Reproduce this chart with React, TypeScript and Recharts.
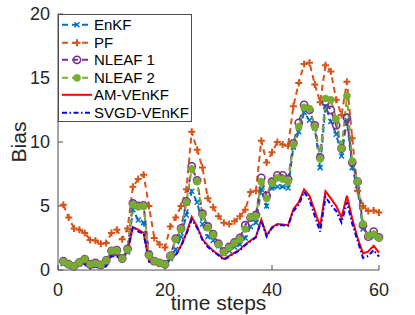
import React from "react";
import { LineChart, Line, XAxis, YAxis, Legend } from "recharts";

// time steps and estimated bias per filter
const STEPS = [
  1, 2, 3, 4, 5, 6, 7, 8, 9, 10, 11, 12, 13, 14, 15, 16, 17, 18, 19, 20,
  21, 22, 23, 24, 25, 26, 27, 28, 29, 30, 31, 32, 33, 34, 35, 36, 37, 38, 39, 40,
  41, 42, 43, 44, 45, 46, 47, 48, 49, 50, 51, 52, 53, 54, 55, 56, 57, 58, 59, 60,
];

const ENKF = [
  0.5, 0.35, 0.2, 0.5, 0.7, 0.35, 0.4, 0.3, 0.6, 1.3, 1.3, 0.8, 1.4, 4.7, 3.9, 3.7, 1.3, 0.6, 0.5, 0.35,
  0.9, 1.6, 2.6, 4.3, 6.15, 5.3, 3.6, 2.6, 2.3, 1.9, 1.3, 1.5, 1.8, 2.0, 2.5, 3.4, 3.7, 6.3, 5.0, 6.4,
  6.5, 6.5, 6.4, 9.6, 10.8, 12.3, 11.7, 11.1, 8.0, 12.8, 11.6, 10.6, 8.9, 11.7, 8.0, 6.3, 3.2, 2.7, 2.6, 2.5,
];

const PF = [
  5.1, 4.1, 3.25, 3.15, 2.9, 2.35, 2.3, 2.05, 2.1, 2.9, 3.15, 2.4, 3.25, 6.5, 7.1, 7.45, 5.0, 2.5, 2.0, 1.75,
  3.4, 4.1, 5.0, 6.3, 10.8, 9.4, 8.0, 5.6, 4.9, 4.2, 3.7, 3.6, 3.8, 4.2, 4.7, 6.1, 6.2, 10.1, 8.4, 9.2,
  10.0, 9.8, 9.7, 12.8, 14.6, 16.1, 16.2, 14.5, 13.1, 16.0, 15.5, 13.3, 12.1, 14.7, 10.3, 6.2, 5.0, 4.6, 4.65, 4.5,
];

const NLEAF1 = [
  0.7, 0.45, 0.3, 0.6, 0.85, 0.45, 0.55, 0.4, 0.75, 1.5, 1.55, 0.9, 1.65, 5.2, 5.0, 5.05, 1.2, 0.7, 0.55, 0.45,
  1.1, 2.45, 3.25, 5.35, 8.1, 7.0, 4.4, 3.4, 2.8, 2.05, 1.45, 1.8, 2.15, 2.5, 3.5, 4.1, 4.3, 7.2, 5.8, 6.9,
  7.4, 7.4, 7.1, 9.9, 11.5, 12.9, 12.5, 11.3, 8.8, 13.1, 12.5, 11.3, 9.5, 11.9, 8.4, 6.9, 3.5, 2.6, 3.0, 2.55,
];

const NLEAF2 = [
  0.65, 0.45, 0.3, 0.6, 0.85, 0.45, 0.5, 0.4, 0.75, 1.5, 1.5, 0.9, 1.6, 5.1, 4.95, 5.0, 1.15, 0.7, 0.55, 0.45,
  1.1, 2.4, 3.2, 5.3, 7.9, 6.9, 4.3, 3.3, 2.75, 2.0, 1.4, 1.75, 2.1, 2.4, 3.2, 4.15, 4.2, 6.9, 5.6, 6.8,
  7.2, 7.1, 6.9, 9.8, 11.2, 12.7, 12.6, 11.2, 8.7, 13.4, 13.3, 11.8, 9.5, 13.6, 8.5, 6.9, 3.6, 2.7, 2.8, 2.5,
];

const AMV = [
  0.5, 0.25, 0.1, 0.4, 0.5, 0.15, 0.3, 0.15, 0.35, 1.2, 1.15, 0.75, 1.5, 3.35, 3.15, 2.9, 0.7, 0.55, 0.45, 0.3,
  0.95, 1.2, 1.9, 2.9, 4.15, 3.4, 2.4, 1.9, 1.5, 1.2, 0.85, 1.1, 1.35, 1.6, 2.0, 2.3, 2.6, 3.95, 2.7, 3.35,
  3.6, 3.55, 3.5, 4.75, 5.3, 6.3, 5.8, 4.6, 3.4, 6.15, 5.6, 5.0, 4.1, 5.8, 4.0, 2.5, 1.3, 1.45, 1.9, 1.35,
];

const SVGD = [
  0.45, 0.2, 0.05, 0.35, 0.45, 0.1, 0.25, 0.12, 0.3, 1.1, 1.05, 0.7, 1.45, 3.4, 3.0, 2.85, 0.65, 0.5, 0.4, 0.25,
  0.9, 1.15, 1.85, 2.8, 3.95, 3.3, 2.35, 1.8, 1.45, 1.15, 0.8, 1.05, 1.3, 1.55, 1.95, 2.25, 2.55, 3.85, 2.6, 3.3,
  3.5, 3.5, 3.45, 4.6, 5.1, 6.1, 5.5, 4.2, 3.0, 5.7, 5.1, 4.6, 3.7, 5.3, 3.6, 2.3, 0.95, 1.1, 1.55, 1.05,
];

const X_TICKS = [0, 20, 40, 60];
const Y_TICKS = [0, 5, 10, 15, 20];

const data = STEPS.map((t, i) => ({
  t,
  enkf: ENKF[i],
  pf: PF[i],
  nleaf1: NLEAF1[i],
  nleaf2: NLEAF2[i],
  amv: AMV[i],
  svgd: SVGD[i],
}));

const FONT = "'Liberation Sans', Arial, Helvetica, sans-serif";
const AXIS = "#4d4d4d";
const TEXT = "#262626";

type Marker = "x" | "plus" | "ring" | "dot" | "none";

const SERIES: { key: string; name: string; color: string; dash?: string; marker: Marker }[] = [
  { key: "enkf", name: "EnKF", color: "#0072BD", dash: "6 4", marker: "x" },
  { key: "pf", name: "PF", color: "#D95319", dash: "6 4", marker: "plus" },
  { key: "nleaf1", name: "NLEAF 1", color: "#7E2F8E", dash: "6 4", marker: "ring" },
  { key: "nleaf2", name: "NLEAF 2", color: "#77AC30", dash: "6 4", marker: "dot" },
  { key: "amv", name: "AM-VEnKF", color: "#FF0000", marker: "none" },
  { key: "svgd", name: "SVGD-VEnKF", color: "#0000FF", dash: "5 2.5 1.5 2.5", marker: "none" },
];

function markerShape(kind: Marker, color: string, cx: number, cy: number, key?: React.Key) {
  if (kind === "x") {
    const r = 2.5;
    return (
      <path key={key} d={`M${cx - r},${cy - r}L${cx + r},${cy + r}M${cx - r},${cy + r}L${cx + r},${cy - r}`}
        stroke={color} strokeWidth={1.5} fill="none" />
    );
  }
  if (kind === "plus") {
    const r = 3.5;
    return (
      <path key={key} d={`M${cx - r},${cy}L${cx + r},${cy}M${cx},${cy - r}L${cx},${cy + r}`}
        stroke={color} strokeWidth={2} fill="none" />
    );
  }
  if (kind === "ring") {
    return <circle key={key} cx={cx} cy={cy} r={3.6} stroke={color} strokeWidth={1.6} fill="none" />;
  }
  if (kind === "dot") {
    return <circle key={key} cx={cx} cy={cy} r={3.6} fill={color} stroke={color} strokeWidth={0.5} />;
  }
  return <g key={key} />;
}

function MatlabLegend() {
  return (
    <div
      style={{
        width: 134, height: 108, boxSizing: "border-box", border: `1px solid ${AXIS}`,
        background: "#fff", fontFamily: FONT, fontSize: 15, color: "#000", paddingTop: 1,
      }}
    >
      {SERIES.map((s) => (
        <div key={s.key} style={{ display: "flex", alignItems: "center", height: 17.6 }}>
          <svg width={35} height={17.6} style={{ flexShrink: 0 }}>
            <line x1={3} x2={33} y1={8.8} y2={8.8} stroke={s.color} strokeWidth={2} strokeDasharray={s.dash} />
            {markerShape(s.marker, s.color, 18, 8.8)}
          </svg>
          <span style={{ lineHeight: "17.6px", whiteSpace: "nowrap" }}>{s.name}</span>
        </div>
      ))}
    </div>
  );
}

export default function App() {
  return (
    <div style={{ position: "absolute", left: 0, top: 0, width: 415, height: 315, background: "#fff", fontFamily: FONT }}>
      <LineChart width={415} height={315} data={data} margin={{ top: 14, right: 36, bottom: 0, left: 0 }}>
        <XAxis
          dataKey="t" type="number" domain={[0, 60]} ticks={X_TICKS} height={45}
          tickSize={-5} tickMargin={18}
          axisLine={{ stroke: AXIS }} tickLine={{ stroke: AXIS }}
          tick={{ fill: TEXT, fontSize: 18, fontFamily: FONT }}
          label={{ value: "time steps", position: "insideBottom", offset: 5, fill: TEXT, fontSize: 21, fontFamily: FONT }}
        />
        <XAxis
          xAxisId="top" orientation="top" dataKey="t" type="number" domain={[0, 60]} ticks={X_TICKS}
          height={0} tickSize={-5} tick={false}
          axisLine={{ stroke: AXIS }} tickLine={{ stroke: AXIS }}
        />
        <YAxis
          domain={[0, 20]} ticks={Y_TICKS} width={58} tickSize={-5} tickMargin={13}
          axisLine={{ stroke: AXIS }} tickLine={{ stroke: AXIS }}
          tick={{ fill: TEXT, fontSize: 18, fontFamily: FONT }}
          label={{
            value: "Bias", angle: -90, position: "insideLeft", offset: 18.5,
            fill: TEXT, fontSize: 21, fontFamily: FONT, style: { textAnchor: "middle" },
          }}
        />
        <YAxis
          yAxisId="right" orientation="right" domain={[0, 20]} ticks={Y_TICKS} width={0}
          tickSize={-5} tick={false}
          axisLine={{ stroke: AXIS }} tickLine={{ stroke: AXIS }}
        />
        {SERIES.map((s) => (
          <Line
            key={s.key}
            dataKey={s.key}
            name={s.name}
            type="linear"
            stroke={s.color}
            strokeWidth={2}
            strokeDasharray={s.dash}
            isAnimationActive={false}
            dot={(p: any) => markerShape(s.marker, s.color, p.cx, p.cy, `${s.key}-${p.index}`)}
            activeDot={false}
          />
        ))}
        <Legend
          layout="vertical" align="center" verticalAlign="middle"
          content={() => <MatlabLegend />}
          wrapperStyle={{ position: "absolute", top: 14, left: 58, width: 134, height: 108 }}
        />
      </LineChart>
    </div>
  );
}
